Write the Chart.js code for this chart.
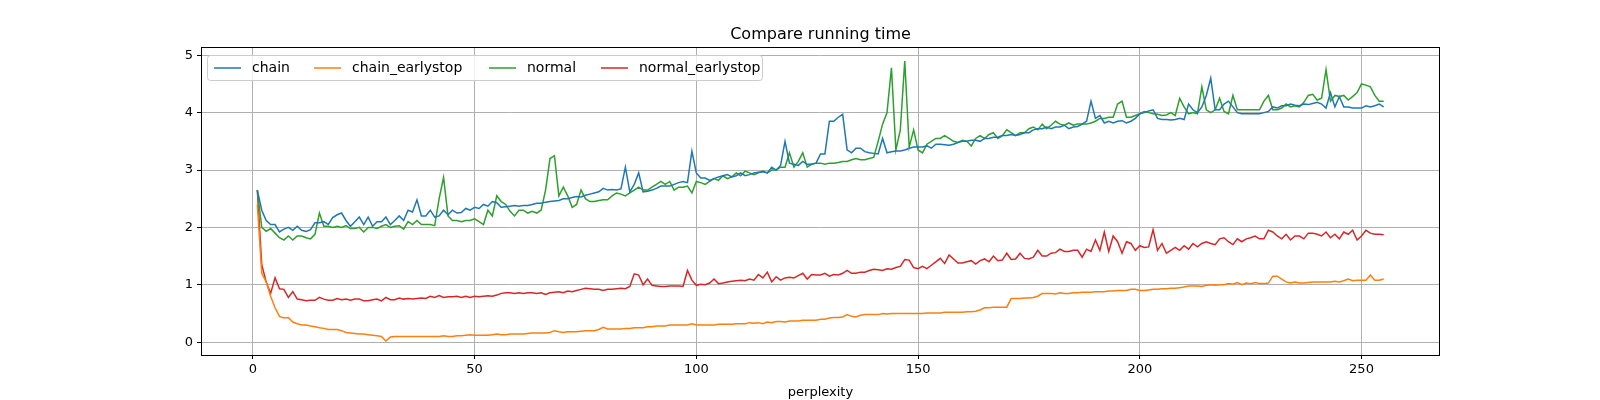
<!DOCTYPE html>
<html>
<head>
<meta charset="utf-8">
<script src="https://cdn.jsdelivr.net/npm/chart.js@4"></script>
<style>
  body { margin: 0; background: #fff; }
  #wrap { width: 1600px; height: 400px; }
</style>
</head>
<body>
<div id="wrap"><canvas id="myCanvas" width="1600" height="400"></canvas></div>
<script>
const chainValues = [
  2.65,2.3,2.12,2.05,2.05,1.92,1.97,2.0,1.95,2.02,
  1.95,1.93,1.96,2.08,2.08,2.1,2.05,2.17,2.22,2.25,
  2.12,2.02,2.1,2.18,2.05,2.18,2.02,2.1,2.1,2.18,
  2.05,2.12,2.2,2.12,2.3,2.27,2.48,2.2,2.2,2.3,
  2.18,2.2,2.3,2.22,2.3,2.25,2.26,2.33,2.3,2.35,
  2.33,2.4,2.37,2.45,2.43,2.35,2.36,2.37,2.38,2.37,
  2.38,2.38,2.4,2.42,2.42,2.44,2.45,2.46,2.47,2.5,
  2.5,2.52,2.54,2.53,2.56,2.58,2.6,2.62,2.68,2.65,
  2.66,2.65,2.67,3.05,2.62,2.75,2.95,2.62,2.63,2.65,
  2.68,2.72,2.72,2.72,2.75,2.78,2.8,2.78,3.33,2.95,
  2.86,2.86,2.82,2.85,2.88,2.9,2.92,2.88,2.9,2.95,
  2.9,2.92,2.95,2.96,2.97,2.95,3.05,3.0,3.08,3.5,
  3.12,3.1,3.08,3.15,3.1,3.1,3.12,3.28,3.28,3.85,
  3.85,3.92,3.97,3.35,3.3,3.38,3.38,3.32,3.3,3.29,
  3.28,3.55,3.3,3.32,3.33,3.33,3.35,3.38,3.4,3.4,
  3.4,3.42,3.38,3.45,3.45,3.44,3.43,3.45,3.48,3.5,
  3.5,3.52,3.52,3.5,3.55,3.55,3.57,3.57,3.6,3.6,
  3.62,3.6,3.62,3.65,3.65,3.7,3.72,3.72,3.75,3.72,
  3.75,3.75,3.78,3.72,3.75,3.76,3.8,3.85,4.2,3.9,
  3.95,3.82,3.85,3.82,3.85,3.86,3.82,3.85,3.9,3.98,
  4.0,4.03,4.05,3.9,3.88,3.88,3.87,3.88,3.9,3.88,
  4.15,4.05,4.0,4.1,4.3,4.6,4.05,4.05,4.15,4.2,
  4.1,4.0,3.98,3.98,3.98,3.98,3.98,4.0,4.02,4.1,
  4.08,4.12,4.12,4.15,4.13,4.12,4.15,4.14,4.16,4.18,
  4.15,4.08,4.35,4.1,4.28,4.1,4.1,4.08,4.08,4.08,
  4.12,4.1,4.12,4.15,4.1
];
const chainEarlyValues = [
  2.4,1.2,1.05,0.8,0.6,0.45,0.42,0.43,0.35,0.32,
  0.3,0.3,0.28,0.27,0.25,0.24,0.22,0.22,0.22,0.2,
  0.17,0.16,0.15,0.14,0.14,0.13,0.12,0.11,0.1,0.02,
  0.09,0.1,0.1,0.1,0.1,0.1,0.1,0.1,0.1,0.1,
  0.1,0.1,0.11,0.1,0.1,0.11,0.11,0.12,0.13,0.12,
  0.12,0.12,0.12,0.13,0.14,0.13,0.13,0.14,0.14,0.14,
  0.14,0.15,0.16,0.16,0.16,0.16,0.17,0.2,0.18,0.17,
  0.18,0.18,0.18,0.19,0.2,0.2,0.2,0.22,0.26,0.23,
  0.23,0.23,0.23,0.24,0.24,0.25,0.25,0.25,0.27,0.27,
  0.28,0.28,0.28,0.3,0.3,0.3,0.3,0.3,0.32,0.3,
  0.3,0.3,0.3,0.3,0.31,0.31,0.31,0.31,0.32,0.32,
  0.32,0.34,0.33,0.34,0.32,0.35,0.34,0.36,0.36,0.35,
  0.37,0.37,0.37,0.38,0.38,0.38,0.38,0.4,0.4,0.42,
  0.43,0.43,0.44,0.48,0.45,0.44,0.47,0.48,0.48,0.48,
  0.48,0.5,0.49,0.5,0.5,0.5,0.5,0.5,0.5,0.5,
  0.5,0.51,0.51,0.51,0.51,0.52,0.52,0.52,0.52,0.52,
  0.53,0.53,0.54,0.56,0.6,0.6,0.61,0.61,0.61,0.61,
  0.76,0.76,0.76,0.77,0.77,0.78,0.8,0.85,0.85,0.85,
  0.84,0.86,0.85,0.85,0.86,0.86,0.87,0.87,0.87,0.88,
  0.88,0.88,0.89,0.89,0.9,0.9,0.9,0.92,0.92,0.9,
  0.9,0.91,0.92,0.92,0.93,0.93,0.94,0.94,0.95,0.96,
  0.98,0.98,0.98,0.97,0.99,1.0,0.99,1.0,1.0,1.02,
  1.01,1.04,1.0,1.03,1.02,1.04,1.02,1.02,1.03,1.15,
  1.15,1.1,1.05,1.03,1.05,1.03,1.03,1.04,1.05,1.05,
  1.05,1.05,1.05,1.06,1.05,1.07,1.1,1.07,1.08,1.08,
  1.08,1.17,1.08,1.08,1.1
];
const normalValues = [
  2.65,2.0,1.93,1.98,1.9,1.82,1.78,1.85,1.78,1.85,
  1.85,1.82,1.8,1.88,2.25,2.02,2.02,2.0,2.02,2.0,
  2.03,1.98,1.98,2.0,1.92,2.0,2.0,1.98,2.02,2.05,
  2.0,2.02,2.03,1.97,2.1,2.05,2.12,2.05,2.05,2.05,
  2.03,2.5,2.87,2.2,2.12,2.12,2.1,2.12,2.12,2.15,
  2.1,2.05,2.3,2.2,2.55,2.45,2.4,2.28,2.2,2.3,
  2.3,2.25,2.28,2.25,2.3,2.65,3.2,3.25,2.55,2.7,
  2.55,2.35,2.4,2.65,2.5,2.45,2.45,2.47,2.48,2.48,
  2.55,2.6,2.58,2.55,2.6,2.65,2.7,2.65,2.65,2.7,
  2.75,2.8,2.75,2.8,2.65,2.7,2.7,2.72,2.6,2.8,
  2.78,2.75,2.8,2.85,2.82,2.9,2.85,2.88,2.95,2.9,
  2.98,2.95,2.92,2.95,2.98,2.95,3.0,3.0,3.05,3.05,
  3.3,3.05,3.15,3.3,3.05,3.1,3.12,3.12,3.1,3.12,
  3.12,3.13,3.15,3.15,3.18,3.2,3.18,3.18,3.2,3.22,
  3.5,3.8,4.0,4.78,3.35,3.7,4.9,3.4,3.7,3.35,
  3.3,3.45,3.5,3.55,3.55,3.6,3.55,3.5,3.48,3.52,
  3.5,3.42,3.55,3.6,3.55,3.62,3.65,3.55,3.6,3.7,
  3.65,3.6,3.65,3.65,3.72,3.75,3.7,3.8,3.72,3.78,
  3.85,3.8,3.78,3.82,3.78,3.8,3.8,3.8,3.82,3.85,
  3.9,3.9,3.92,3.92,4.15,4.2,3.92,3.92,3.95,3.98,
  4.02,4.0,3.98,3.97,3.95,3.96,4.0,3.95,4.25,4.1,
  3.98,4.0,3.98,4.45,4.05,4.0,4.05,4.25,4.02,3.98,
  4.3,4.05,4.05,4.05,4.05,4.05,4.05,4.2,4.3,4.05,
  4.05,4.08,4.15,4.1,4.12,4.1,4.18,4.3,4.32,4.22,
  4.25,4.75,4.2,4.3,4.28,4.3,4.22,4.28,4.35,4.5,
  4.48,4.45,4.3,4.2,4.2
];
const normalEarlyValues = [
  2.65,1.35,1.05,0.85,1.12,0.93,0.92,0.78,0.88,0.75,
  0.74,0.72,0.73,0.73,0.78,0.75,0.73,0.73,0.76,0.74,
  0.75,0.73,0.75,0.75,0.72,0.72,0.74,0.75,0.72,0.78,
  0.74,0.74,0.77,0.75,0.76,0.75,0.76,0.77,0.76,0.8,
  0.78,0.81,0.78,0.79,0.79,0.8,0.78,0.8,0.78,0.8,
  0.79,0.8,0.81,0.8,0.82,0.85,0.86,0.86,0.85,0.86,
  0.85,0.86,0.86,0.85,0.86,0.83,0.86,0.87,0.88,0.86,
  0.89,0.88,0.9,0.92,0.94,0.93,0.92,0.92,0.9,0.92,
  0.92,0.93,0.94,0.93,0.97,1.19,1.17,1.0,1.1,0.99,
  0.98,0.97,0.97,0.98,0.98,0.98,0.97,1.25,1.08,0.99,
  1.01,1.0,1.03,1.1,1.02,1.03,1.05,1.06,1.07,1.08,
  1.07,1.1,1.08,1.18,1.12,1.22,1.05,1.14,1.08,1.12,
  1.13,1.12,1.16,1.2,1.1,1.18,1.17,1.17,1.2,1.15,
  1.18,1.17,1.2,1.25,1.2,1.2,1.22,1.22,1.25,1.27,
  1.26,1.25,1.28,1.27,1.3,1.32,1.44,1.43,1.3,1.28,
  1.32,1.28,1.34,1.4,1.46,1.37,1.52,1.45,1.38,1.38,
  1.4,1.42,1.36,1.42,1.45,1.4,1.5,1.42,1.43,1.55,
  1.44,1.45,1.55,1.46,1.45,1.48,1.6,1.5,1.5,1.55,
  1.56,1.62,1.58,1.58,1.6,1.6,1.48,1.62,1.58,1.78,
  1.6,1.92,1.58,1.85,1.75,1.55,1.75,1.72,1.6,1.68,
  1.65,1.66,1.96,1.6,1.72,1.55,1.6,1.65,1.6,1.68,
  1.62,1.72,1.66,1.72,1.75,1.72,1.7,1.8,1.82,1.75,
  1.7,1.8,1.75,1.8,1.82,1.85,1.8,1.8,1.95,1.92,
  1.85,1.8,1.88,1.78,1.85,1.85,1.8,1.9,1.9,1.88,
  1.85,1.92,1.82,1.88,1.8,1.92,1.88,1.95,1.78,1.85,
  1.95,1.9,1.88,1.88,1.87
];
const xTicks = [0, 50, 100, 150, 200, 250];
const yTicks = [0, 1, 2, 3, 4, 5];
const seriesNames = ['chain', 'chain_earlystop', 'normal', 'normal_earlystop'];
const seriesColors = ['#1f77b4', '#ff7f0e', '#2ca02c', '#d62728'];

const font = 'DejaVu Sans';
const ctx = document.getElementById('myCanvas').getContext('2d');

function toPoints(arr) {
  return arr.map((v, i) => ({ x: i + 1, y: v }));
}
const allSeries = [chainValues, chainEarlyValues, normalValues, normalEarlyValues];

// title, axis frame and the legend box, drawn like matplotlib
const decor = {
  id: 'decor',
  afterDraw(chart) {
    const c = chart.ctx;
    const a = chart.chartArea;
    c.save();
    c.strokeStyle = '#000';
    c.lineWidth = 1;
    c.strokeRect(a.left + 0.5, a.top + 0.5, a.right - a.left - 1, a.bottom - a.top);
    c.fillStyle = '#000';
    c.font = '16px "' + font + '"';
    c.textAlign = 'center';
    c.textBaseline = 'alphabetic';
    c.fillText('Compare running time', (a.left + a.right) / 2, 39);

    // legend
    const lx = a.left + 6, ly = a.top + 8, lw = 555, lh = 25;
    c.fillStyle = 'rgba(255,255,255,0.8)';
    c.strokeStyle = '#cccccc';
    c.beginPath();
    c.roundRect(lx + 0.5, ly + 0.5, lw, lh, 3);
    c.fill();
    c.stroke();
    const offsets = [7, 107, 282, 394];
    c.font = '14px "' + font + '"';
    c.textAlign = 'left';
    c.textBaseline = 'middle';
    seriesNames.forEach((name, i) => {
      const x = lx + offsets[i];
      c.strokeStyle = seriesColors[i];
      c.lineWidth = 1.5;
      c.beginPath();
      c.moveTo(x, ly + lh / 2 + 0.5);
      c.lineTo(x + 27, ly + lh / 2 + 0.5);
      c.stroke();
      c.fillStyle = '#000';
      c.fillText(name, x + 38, ly + lh / 2 + 1);
    });
    c.restore();
  }
};

let chart = new Chart(ctx, {
  type: 'line',
  data: {
    datasets: allSeries.map((arr, i) => ({
      label: seriesNames[i],
      data: toPoints(arr),
      borderColor: seriesColors[i],
      backgroundColor: seriesColors[i],
      borderWidth: 1.5,
      pointRadius: 0,
      tension: 0
    }))
  },
  options: {
    responsive: false,
    animation: false,
    layout: { padding: { left: 154, right: 160, top: 47, bottom: 0 } },
    scales: {
      x: {
        type: 'linear',
        min: -11.7,
        max: 267.7,
        afterBuildTicks: (s) => { s.ticks = xTicks.map(v => ({ value: v })); },
        afterFit: (s) => { s.height = 45; },
        grid: { color: '#b0b0b0', tickColor: '#000', tickLength: 4 },
        border: { display: false },
        ticks: { color: '#000', font: { family: font, size: 13 }, padding: 3, maxRotation: 0 },
        title: { display: true, text: 'perplexity', color: '#000', font: { family: font, size: 13 }, padding: { top: 0, bottom: 0 } }
      },
      y: {
        min: -0.224,
        max: 5.144,
        afterBuildTicks: (s) => { s.ticks = yTicks.map(v => ({ value: v })); },
        afterFit: (s) => { s.width = 47; },
        grid: { color: '#b0b0b0', tickColor: '#000', tickLength: 4 },
        border: { display: false },
        ticks: { color: '#000', font: { family: font, size: 13 }, padding: 4 }
      }
    },
    plugins: {
      legend: { display: false },
      title: { display: false },
      tooltip: { enabled: false }
    }
  },
  plugins: [decor]
});
</script>
</body>
</html>
